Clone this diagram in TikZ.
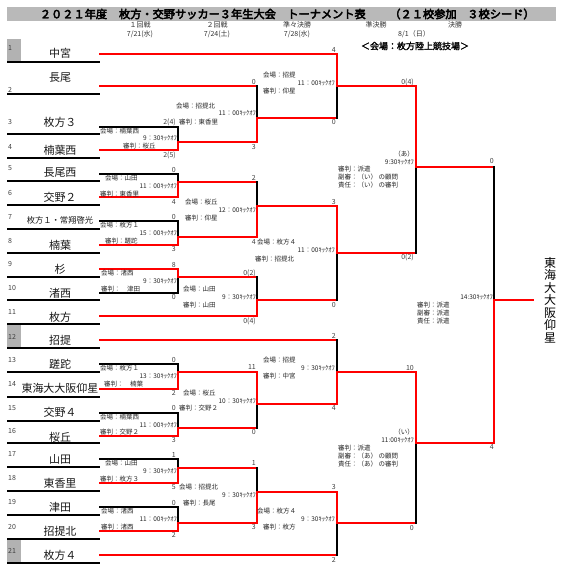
\documentclass[tikz,border=0pt]{standalone}
\usepackage{fontspec}
\setmainfont{Noto Sans CJK JP}
\newfontfamily\jpb[FakeBold=4]{Noto Sans CJK JP}
\newfontfamily\jpm[FakeBold=2]{Noto Sans CJK JP}
\newcounter{nn}
\newcommand\tx[4]{\stepcounter{nn}\node[#1] (n\thenn) at (#2,#3) {#4};}
\newcommand\hl[4]{\draw[#1] (#2,#4) -- (#3,#4);}
\newcommand\vl[4]{\draw[#1] (#2,#3) -- (#2,#4);}
\tikzset{
 W/.style={draw=red, line width=1.1pt, line cap=rect},
 L/.style={draw=black, line width=1.1pt, line cap=rect},
 U/.style={draw=black, line width=1.1pt},
 sl/.style={font=\fontsize{6.5}{7}\selectfont, inner sep=0pt, anchor=west, text=black!85},
 sr/.style={font=\fontsize{6.5}{7}\selectfont, inner sep=0pt, anchor=east, text=black!85},
 sc/.style={font=\fontsize{7}{8}\selectfont, inner sep=0pt, anchor=east, text=black!75},
 tn/.style={font=\fontsize{11}{12}\selectfont, inner sep=0pt, text=black!90},
 nm/.style={font=\fontsize{7}{8}\selectfont, inner sep=0pt, anchor=west, text=black!75},
 hd/.style={font=\fontsize{7}{8}\selectfont, inner sep=0pt, text=black!80},
 tt/.style={font=\jpb\fontsize{11.2}{12}\selectfont, inner sep=0pt},
}
\begin{document}
\begin{tikzpicture}[x=1pt,y=-1pt]
\useasboundingbox (0,0) rectangle (568,574);
\fill[white] (0,0) rectangle (568,574);
% header band
\fill[gray!55] (7,7) rectangle (556,21);
\tx{tt}{73.5}{14}{２０２１年度}
\tx{tt}{197.5}{14}{枚方・交野サッカー３年生大会}
\tx{tt}{326.5}{14}{トーナメント表}
\tx{tt}{423}{14}{（２１校参加}
\tx{tt}{501}{14}{３校シード）}
% round headers
\tx{hd}{140}{25}{１回戦}
\tx{hd}{140}{34}{7/21(水)}
\tx{hd}{217}{25}{２回戦}
\tx{hd}{217}{34}{7/24(土)}
\tx{hd}{297}{25}{準々決勝}
\tx{hd}{297}{34}{7/28(水)}
\tx{hd}{376}{25}{準決勝}
\tx{hd}{455}{25}{決勝}
\tx{hd}{414}{34}{8/1（日）}
\tx{font=\jpm\fontsize{9}{10}\selectfont, inner sep=0pt}{415}{46}{＜会場：枚方陸上競技場＞}
% seed boxes
\fill[gray!60] (7,39) rectangle (21,62);
\fill[gray!60] (7,325) rectangle (21,348);
\fill[gray!60] (7,540) rectangle (21,563);
% underlines
\foreach \y in {62,94,134,158,181,205,229,253,277,300,324,348,372,397,421,443,467,491,515,539,563}
  \draw[U] (7,\y) -- (100,\y);
% numbers
\tx{nm}{8}{48}{1}
\tx{nm}{8}{90}{2}
\tx{nm}{8}{122}{3}
\tx{nm}{8}{147}{4}
\tx{nm}{8}{168}{5}
\tx{nm}{8}{193}{6}
\tx{nm}{8}{217}{7}
\tx{nm}{8}{241}{8}
\tx{nm}{8}{264}{9}
\tx{nm}{8}{288}{10}
\tx{nm}{8}{312}{11}
\tx{nm}{8}{337}{12}
\tx{nm}{8}{360}{13}
\tx{nm}{8}{384}{14}
\tx{nm}{8}{408}{15}
\tx{nm}{8}{431}{16}
\tx{nm}{8}{454}{17}
\tx{nm}{8}{478}{18}
\tx{nm}{8}{502}{19}
\tx{nm}{8}{527}{20}
\tx{nm}{8}{551}{21}
% team names
\tx{tn}{60}{53}{中宮}
\tx{tn}{60}{78}{長尾}
\tx{tn}{60}{122}{枚方３}
\tx{tn}{60}{150}{楠葉西}
\tx{tn}{60}{173}{長尾西}
\tx{tn}{60}{197}{交野２}
\tx{tn,font=\fontsize{8.3}{9}\selectfont}{60}{220}{枚方１・常翔啓光}
\tx{tn}{60}{245}{楠葉}
\tx{tn}{60}{269}{杉}
\tx{tn}{60}{293}{渚西}
\tx{tn}{60}{317}{枚方}
\tx{tn}{60}{340}{招提}
\tx{tn}{60}{364}{蹉跎}
\tx{tn}{60}{388}{東海大大阪仰星}
\tx{tn}{60}{412}{交野４}
\tx{tn}{60}{437}{桜丘}
\tx{tn}{60}{459}{山田}
\tx{tn}{60}{483}{東香里}
\tx{tn}{60}{507}{津田}
\tx{tn}{60}{531}{招提北}
\tx{tn}{60}{555}{枚方４}
% team lines
\hl{L}{100}{178}{127}
\hl{L}{100}{178}{174}
\hl{L}{100}{178}{221}
\hl{L}{100}{178}{293}
\hl{L}{100}{178}{364}
\hl{L}{100}{178}{413}
\hl{L}{100}{178}{459}
\hl{L}{100}{178}{507}
\hl{W}{100}{337}{54}
\hl{W}{100}{257}{86}
\hl{W}{100}{178}{150}
\hl{W}{100}{178}{197}
\hl{W}{100}{178}{245}
\hl{W}{100}{178}{269}
\hl{W}{100}{257}{316}
\hl{W}{100}{337}{340}
\hl{W}{100}{178}{389}
\hl{W}{100}{178}{436}
\hl{W}{100}{178}{483}
\hl{W}{100}{178}{531}
\hl{W}{100}{337}{555}
% round 1
\vl{L}{178}{127}{142}\vl{W}{178}{142}{150}\hl{W}{178}{257}{142}
\vl{L}{178}{174}{182}\vl{W}{178}{182}{197}\hl{W}{178}{257}{182}
\vl{L}{178}{221}{237}\vl{W}{178}{237}{245}\hl{W}{178}{257}{237}
\vl{L}{178}{277}{293}\vl{W}{178}{269}{277}\hl{W}{178}{257}{277}
\vl{L}{178}{364}{372}\vl{W}{178}{372}{389}\hl{W}{178}{257}{372}
\vl{L}{178}{413}{428}\vl{W}{178}{428}{436}\hl{W}{178}{257}{428}
\vl{L}{178}{459}{468}\vl{W}{178}{468}{483}\hl{W}{178}{257}{468}
\vl{L}{178}{507}{523}\vl{W}{178}{523}{531}\hl{W}{178}{257}{523}
% round 2
\vl{L}{257}{86}{118}\vl{W}{257}{118}{142}\hl{W}{257}{337}{118}
\vl{L}{257}{182}{206}\vl{W}{257}{206}{237}\hl{W}{257}{337}{206}
\vl{L}{257}{277}{300}\vl{W}{257}{300}{316}\hl{W}{257}{337}{300}
\vl{L}{257}{404}{428}\vl{W}{257}{372}{404}\hl{W}{257}{337}{404}
\vl{L}{257}{468}{492}\vl{W}{257}{492}{523}\hl{W}{257}{337}{492}
% quarter finals
\vl{L}{337}{86}{118}\vl{W}{337}{54}{86}\hl{W}{337}{416}{86}
\vl{L}{337}{253}{300}\vl{W}{337}{206}{253}\hl{W}{337}{416}{253}
\vl{L}{337}{340}{372}\vl{W}{337}{372}{404}\hl{W}{337}{416}{372}
\vl{L}{337}{523}{555}\vl{W}{337}{492}{523}\hl{W}{337}{416}{523}
% semi finals
\vl{L}{416}{167}{253}\vl{W}{416}{86}{167}\hl{W}{416}{494}{167}
\vl{L}{416}{443}{523}\vl{W}{416}{372}{443}\hl{W}{416}{494}{443}
% final
\vl{L}{494}{167}{300}\vl{W}{494}{300}{443}\hl{W}{494}{533}{300}
% champion
\tx{font=\fontsize{12}{12.5}\selectfont, align=center, inner sep=0pt}{550}{300}{東\\海\\大\\大\\阪\\仰\\星}
% scores round 1
\tx{sc}{176}{122}{2(4)}\tx{sc}{176}{155}{2(5)}
\tx{sc}{176}{170}{0}\tx{sc}{176}{202}{4}
\tx{sc}{176}{217}{0}\tx{sc}{176}{249}{3}
\tx{sc}{176}{265}{8}\tx{sc}{176}{297}{0}
\tx{sc}{176}{360}{0}\tx{sc}{176}{393}{2}
\tx{sc}{176}{408}{0}\tx{sc}{176}{440}{3}
\tx{sc}{176}{455}{1}\tx{sc}{176}{487}{5}
\tx{sc}{176}{503}{0}\tx{sc}{176}{535}{2}
% scores round 2
\tx{sc}{256}{82}{0}\tx{sc}{256}{147}{3}
\tx{sc}{256}{178}{2}\tx{sc}{256}{242}{4}
\tx{sc}{256}{273}{0(2)}\tx{sc}{256}{321}{0(4)}
\tx{sc}{256}{367}{11}\tx{sc}{256}{432}{0}
\tx{sc}{256}{463}{1}\tx{sc}{256}{527}{3}
% scores QF
\tx{sc}{336}{50}{4}\tx{sc}{336}{122}{0}
\tx{sc}{336}{202}{3}\tx{sc}{336}{305}{0}
\tx{sc}{336}{336}{2}\tx{sc}{336}{408}{4}
\tx{sc}{336}{487}{3}\tx{sc}{336}{560}{2}
% scores SF
\tx{sc}{414}{82}{0(4)}\tx{sc}{414}{257}{0(2)}
\tx{sc}{414}{368}{10}\tx{sc}{414}{528}{0}
% scores final
\tx{sc}{494}{161}{0}\tx{sc}{494}{447}{4}
% info round 1
\tx{sl}{100}{131}{会場：楠葉西}\tx{sr}{177}{138}{9：30ｷｯｸｵﾌ}\tx{sl}{123}{146}{審判：桜丘}
\tx{sl}{105}{178}{会場：山田}\tx{sr}{177}{186}{11：00ｷｯｸｵﾌ}\tx{sl}{100}{194}{審判：東香里}
\tx{sl}{100}{225}{会場：枚方１}\tx{sr}{177}{233}{15：00ｷｯｸｵﾌ}\tx{sl}{105}{241}{審判：蹉跎}
\tx{sl}{101}{273}{会場：渚西}\tx{sr}{177}{281}{9：30ｷｯｸｵﾌ}\tx{sl}{101}{289}{審判：　津田}
\tx{sl}{100}{368}{会場：枚方１}\tx{sr}{177}{376}{13：30ｷｯｸｵﾌ}\tx{sl}{104}{384}{審判：　楠葉}
\tx{sl}{100}{417}{会場：楠葉西}\tx{sr}{177}{425}{11：00ｷｯｸｵﾌ}\tx{sl}{100}{432}{審判：交野２}
\tx{sl}{105}{463}{会場：山田}\tx{sr}{177}{471}{9：30ｷｯｸｵﾌ}\tx{sl}{100}{479}{審判：枚方３}
\tx{sl}{101}{511}{会場：渚西}\tx{sr}{177}{519}{11：00ｷｯｸｵﾌ}\tx{sl}{101}{527}{審判：渚西}
% info round 2
\tx{sl}{176}{106}{会場：招提北}\tx{sr}{256}{113}{11：00ｷｯｸｵﾌ}\tx{sl}{179}{122}{審判：東香里}
\tx{sl}{185}{202}{会場：桜丘}\tx{sr}{256}{210}{12：00ｷｯｸｵﾌ}\tx{sl}{185}{218}{審判：仰星}
\tx{sl}{183}{289}{会場：山田}\tx{sr}{256}{297}{9：30ｷｯｸｵﾌ}\tx{sl}{183}{305}{審判：山田}
\tx{sl}{183}{393}{会場：桜丘}\tx{sr}{256}{401}{10：30ｷｯｸｵﾌ}\tx{sl}{179}{408}{審判：交野２}
\tx{sl}{179}{487}{会場：招提北}\tx{sr}{256}{495}{9：30ｷｯｸｵﾌ}\tx{sl}{183}{503}{審判：長尾}
% info QF
\tx{sl}{263}{75}{会場：招提}\tx{sr}{335}{83}{11：00ｷｯｸｵﾌ}\tx{sl}{263}{91}{審判：仰星}
\tx{sl}{257}{242}{会場：枚方４}\tx{sr}{335}{250}{11：00ｷｯｸｵﾌ}\tx{sl}{255}{259}{審判：招提北}
\tx{sl}{263}{360}{会場：招提}\tx{sr}{335}{368}{9：30ｷｯｸｵﾌ}\tx{sl}{263}{376}{審判：中宮}
\tx{sl}{257}{511}{会場：枚方４}\tx{sr}{335}{519}{9：30ｷｯｸｵﾌ}\tx{sl}{263}{527}{審判：枚方}
% info SF
\tx{sr}{414}{154}{（あ）}\tx{sr}{414}{162}{9:30ｷｯｸｵﾌ}
\tx{sl}{338}{169}{審判：派遣}\tx{sl}{338}{177}{副審：（い） の顧問}\tx{sl}{338}{185}{責任：（い） の審判}
\tx{sr}{414}{432}{（い）}\tx{sr}{414}{440}{11:00ｷｯｸｵﾌ}
\tx{sl}{338}{448}{審判：派遣}\tx{sl}{338}{456}{副審：（あ） の顧問}\tx{sl}{338}{464}{責任：（あ） の審判}
% info final
\tx{sr}{493}{297}{14:30ｷｯｸｵﾌ}
\tx{sl}{417}{305}{審判：派遣}\tx{sl}{417}{313}{副審：派遣}\tx{sl}{417}{321}{責任：派遣}
\end{tikzpicture}
\end{document}
